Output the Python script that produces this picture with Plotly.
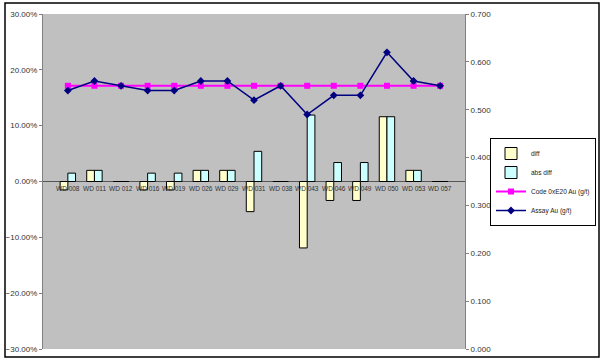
import plotly.graph_objects as go

categories = ["WD 008", "WD 011", "WD 012", "WD 016", "WD 019", "WD 026", "WD 029",
              "WD 031", "WD 038", "WD 043", "WD 046", "WD 049", "WD 050", "WD 053", "WD 057"]
diff = [-0.015, 0.020, 0.0, -0.015, -0.015, 0.020, 0.020, -0.054, 0.0, -0.119,
        -0.034, -0.034, 0.116, 0.020, 0.0]
abs_diff = [abs(v) for v in diff]
code_au = [0.55] * 15
assay_au = [0.54, 0.56, 0.55, 0.54, 0.54, 0.56, 0.56, 0.52, 0.55, 0.49,
            0.53, 0.53, 0.62, 0.56, 0.55]

left_ticks = [-0.3, -0.2, -0.1, 0.0, 0.1, 0.2, 0.3]
right_ticks = [0.0, 0.1, 0.2, 0.3, 0.4, 0.5, 0.6, 0.7]

FONT = "Liberation Sans, Arial, sans-serif"

fig = go.Figure()
fig.add_trace(go.Bar(x=categories, y=diff, name="diff",
                     marker=dict(color="#ffffcc", line=dict(color="#000000", width=1))))
fig.add_trace(go.Bar(x=categories, y=abs_diff, name="abs diff",
                     marker=dict(color="#ccffff", line=dict(color="#000000", width=1))))
fig.add_trace(go.Scatter(x=categories, y=code_au, name="Code 0xE20 Au (g/t)", yaxis="y2",
                         mode="lines+markers",
                         line=dict(color="#ff00ff", width=2),
                         marker=dict(symbol="square", size=6, color="#ff00ff")))
fig.add_trace(go.Scatter(x=categories, y=assay_au, name="Assay Au (g/t)", yaxis="y2",
                         mode="lines+markers",
                         line=dict(color="#000080", width=1.5),
                         marker=dict(symbol="diamond", size=6, color="#000080")))

# category labels placed at the zero line, Excel-style
for c in categories:
    fig.add_annotation(x=c, y=0, xref="x", yref="y", text=c, showarrow=False,
                       yanchor="top", yshift=-1,
                       font=dict(size=6.5, color="#333333", family=FONT))

# outer chart frame
pw, ph = 422, 335
fig.add_shape(type="rect", xref="paper", yref="paper",
              x0=(5 - 43) / pw, x1=(599 - 43) / pw,
              y0=(349 - 357) / ph, y1=(349 - 3) / ph,
              line=dict(color="#000000", width=1.5), fillcolor="rgba(0,0,0,0)", layer="below")

fig.update_layout(
    width=607, height=364,
    margin=dict(l=43, r=142, t=14, b=15, autoexpand=False),
    paper_bgcolor="#ffffff", plot_bgcolor="#c0c0c0",
    barmode="group", bargap=0.42, bargroupgap=0.0,
    font=dict(family=FONT, size=8, color="#333333"),
    showlegend=True,
    legend=dict(x=(490 - 43) / pw, y=(349 - 182) / ph, xanchor="left", yanchor="middle",
                bgcolor="#ffffff", bordercolor="#000000", borderwidth=1,
                font=dict(size=6.5, family=FONT, color="#222222"),
                tracegroupgap=0, itemwidth=30),
    xaxis=dict(showticklabels=False, showgrid=False, zeroline=False,
               showline=False, ticks="", automargin=False),
    yaxis=dict(range=[-0.3, 0.3], tickvals=left_ticks, tickformat=".2%",
               showgrid=False, zeroline=True, zerolinecolor="#555555", zerolinewidth=1,
               showline=True, linecolor="#808080", linewidth=1, automargin=False,
               ticks="outside", ticklen=3, tickcolor="#808080",
               tickfont=dict(size=8, color="#333333")),
    yaxis2=dict(range=[0, 0.7], tickvals=right_ticks, tickformat=".3f",
                overlaying="y", side="right", showgrid=False, zeroline=False,
                showline=True, linecolor="#808080", linewidth=1, automargin=False,
                ticks="outside", ticklen=3, tickcolor="#808080",
                tickfont=dict(size=8, color="#333333")),
)

fig.write_html("out.html", config={"displayModeBar": False},
               post_script="document.body.style.margin='0px';document.body.style.overflow='hidden';")
